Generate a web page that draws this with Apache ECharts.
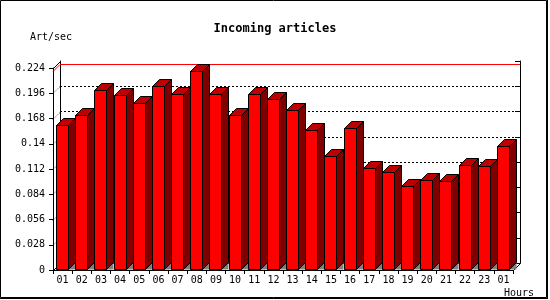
<!DOCTYPE html>
<html>
<head>
<meta charset="utf-8">
<script src="https://cdn.jsdelivr.net/npm/echarts@6/dist/echarts.min.js"></script>
<style>html,body{margin:0;padding:0;background:#fff}#c{width:550px;height:300px}</style>
</head>
<body>
<div id="c"></div>
<script>
const hours = ['01','02','03','04','05','06','07','08','09','10','11','12','13','14','15','16','17','18','19','20','21','22','23','01'];
const rates = [0.1608,0.1719,0.1996,0.1940,0.1848,0.2040,0.1948,0.2207,0.1948,0.1719,0.1948,0.1896,0.1774,0.1552,0.1264,0.1571,0.1128,0.1083,0.0931,0.0998,0.0983,0.1164,0.1153,0.1375];
const yTicks = [0.028,0.056,0.084,0.112,0.140,0.168,0.196];
const yMin = 0, yMax = 0.224, yStep = 0.028;
const titleText = 'Incoming articles';
const yName = 'Art/sec';
const xName = 'Hours';

const DEPTH = 7;
const MONO = 'DejaVu Sans Mono';
const maxRate = Math.max(...rates);

const chart = echarts.init(document.getElementById('c'), null, {renderer:'canvas'});

function renderBar(params, api) {
  const i = api.value(0), v = api.value(1);
  const top = api.coord([i, v]);
  const base = api.coord([i, 0]);
  const x0 = Math.floor(top[0] - 6) + 0.5;
  const x1 = x0 + 12;
  const ty = Math.round(top[1]) + 0.5;
  const by = Math.round(base[1]) - 0.5;
  const d = DEPTH;
  const stroke = {stroke:'#000', lineWidth:1};
  return {
    type:'group',
    children:[
      {type:'polygon', shape:{points:[[x1,by],[x1+d,by-d],[x1+d,by]]}, style:{fill:'#808080'}},
      {type:'polygon', shape:{points:[[x1,ty],[x1+d,ty-d],[x1+d,by-d],[x1,by]]}, style:Object.assign({fill:'#800000'}, stroke)},
      {type:'polygon', shape:{points:[[x0,ty],[x0+d,ty-d],[x1+d,ty-d],[x1,ty]]}, style:Object.assign({fill:'#c00000'}, stroke)},
      {type:'rect', shape:{x:x0, y:ty, width:x1-x0, height:by-ty}, style:Object.assign({fill:'#ff0000'}, stroke)}
    ]
  };
}

function renderMaxLine(params, api) {
  const p = api.coord([0, api.value(1)]);
  const cw = api.size([1,0])[0];
  const xl = Math.round(p[0] - cw/2);
  const xr = Math.round(xl + cw*hours.length);
  const y = Math.round(p[1]) + 0.5;
  const d = DEPTH;
  return {type:'polyline', shape:{points:[[xl,y],[xl+d,y-d],[xr+d,y-d]]}, style:{stroke:'#ff0000', lineWidth:1, fill:null}};
}

function renderStub(params, api) {
  const p = api.coord([0, api.value(1)]);
  const cw = api.size([1,0])[0];
  const xl = Math.round(p[0] - cw/2);
  const y = Math.round(p[1]) + 0.5;
  const d = DEPTH;
  return {type:'line', shape:{x1:xl, y1:y, x2:xl+d, y2:y-d}, style:{stroke:'#000', lineWidth:1, lineDash:[1,2]}};
}

function renderFrame(params, api) {
  const cw = api.size([1,0])[0];
  const b = api.coord([0, yMin]);
  const t = api.coord([0, yMax]);
  const xl = Math.round(b[0] - cw/2) + 0.5;
  const xr = Math.round(b[0] - cw/2 + cw*hours.length) + 0.5;
  const yb = Math.round(b[1]) + 0.5;
  const yt = Math.round(t[1]) + 0.5;
  const d = DEPTH;
  const st = {stroke:'#000', lineWidth:1};
  return {type:'group', children:[
    {type:'line', shape:{x1:xl, y1:yt, x2:xl+d, y2:yt-d}, style:st},
    {type:'line', shape:{x1:xl, y1:yb, x2:xl+d, y2:yb-d}, style:st},
    {type:'line', shape:{x1:xr, y1:yb, x2:xr+d, y2:yb-d}, style:st}
  ]};
}

const option = {
  animation:false,
  backgroundColor:'#ffffff',
  title:{text:titleText, left:'center', top:18, textStyle:{fontFamily:MONO, fontWeight:'bold', fontSize:12, color:'#000'}},
  grid:[
    {left:53, top:68, width:460, height:202},
    {left:60, top:61, width:460, height:202}
  ],
  xAxis:[
    {gridIndex:0, type:'category', data:hours,
      axisLine:{lineStyle:{color:'#000', width:1}},
      axisTick:{show:true, length:4, lineStyle:{color:'#000'}},
      axisLabel:{interval:0, color:'#000', fontFamily:MONO, fontSize:10, margin:5},
      splitLine:{show:false}},
    {gridIndex:1, type:'category', data:hours, position:'top',
      axisLine:{show:true, lineStyle:{color:'#000', width:1}},
      axisTick:{show:false}, axisLabel:{show:false}, splitLine:{show:false}}
  ],
  yAxis:[
    {gridIndex:0, type:'value', min:yMin, max:yMax, interval:yStep,
      axisLine:{show:true, lineStyle:{color:'#000', width:1}},
      axisTick:{show:true, length:4, lineStyle:{color:'#000'}},
      axisLabel:{color:'#000', fontFamily:MONO, fontSize:10, margin:8},
      splitLine:{show:false}},
    {gridIndex:1, type:'value', min:yMin, max:yMax, interval:yStep, position:'left',
      axisLine:{show:true, lineStyle:{color:'#000', width:1}},
      axisTick:{show:false}, axisLabel:{show:false},
      splitLine:{show:true, showMinLine:false, showMaxLine:false, lineStyle:{color:'#000', width:1, type:[2,2]}}},
    {gridIndex:1, type:'value', min:yMin, max:yMax, interval:yStep, position:'right',
      axisLine:{show:true, lineStyle:{color:'#000', width:1}},
      axisTick:{show:true, inside:true, length:5, lineStyle:{color:'#000'}},
      axisLabel:{show:false}, splitLine:{show:false}}
  ],
  graphic:[
    {type:'rect', shape:{x:0.5, y:0.5, width:546, height:297}, style:{fill:null, stroke:'#000', lineWidth:1}, z:100},
    {type:'line', shape:{x1:547.5, y1:0, x2:547.5, y2:299}, style:{stroke:'#000', lineWidth:1}, z:100},
    {type:'line', shape:{x1:0, y1:298.5, x2:548, y2:298.5}, style:{stroke:'#000', lineWidth:1}, z:100},
    {type:'text', x:30, y:37, style:{text:yName, fontFamily:MONO, fontSize:10, fill:'#000', textVerticalAlign:'middle'}, z:100},
    {type:'text', x:504, y:293, style:{text:xName, fontFamily:MONO, fontSize:10, fill:'#000', textVerticalAlign:'middle'}, z:100}
  ],
  series:[
    {type:'custom', xAxisIndex:0, yAxisIndex:0, z:1, clip:false, silent:true,
      data:yTicks.map(v => [0, v]), renderItem:renderStub},
    {type:'custom', xAxisIndex:0, yAxisIndex:0, z:1, clip:false, silent:true,
      data:[[0, maxRate]], renderItem:renderMaxLine},
    {type:'custom', xAxisIndex:0, yAxisIndex:0, z:2, clip:false, silent:true,
      data:[[0, 0]], renderItem:renderFrame},
    {type:'custom', xAxisIndex:0, yAxisIndex:0, z:3, clip:false,
      data:rates.map((v, i) => [i, v]), renderItem:renderBar}
  ]
};
chart.setOption(option);
</script>
</body>
</html>
